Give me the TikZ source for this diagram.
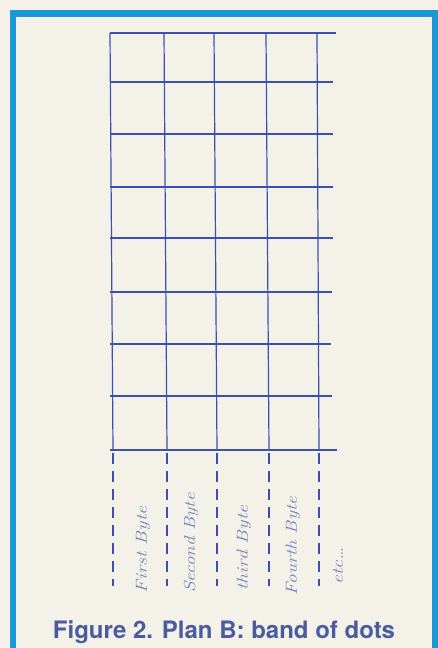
\documentclass[tikz,border=0pt]{standalone}
\usepackage{fontspec}
\newfontfamily\capfont{TeX Gyre Heros}
\usepackage{graphicx}
\definecolor{paper}{HTML}{F4F2E8}
\definecolor{frameblue}{HTML}{1C98D6}
\definecolor{gridblue}{HTML}{3A4FB0}
\definecolor{handblue}{HTML}{7282BA}
\definecolor{capblue}{HTML}{4A5C9E}
\tikzset{
  gridline/.style={draw=gridblue, line width=1.2pt},
  dashline/.style={draw=gridblue, line width=1.2pt, dash pattern=on 11pt off 7pt},
  hand/.style={text=handblue, rotate=90, inner sep=0pt, font=\fontsize{16}{16}\selectfont\itshape},
  caption/.style={text=capblue, inner sep=0pt, anchor=base, font=\capfont\bfseries\fontsize{24}{26}\selectfont}
}
\begin{document}
\begin{tikzpicture}[x=1pt, y=-1pt]
\useasboundingbox (0,0) rectangle (438,648);
\fill[paper] (0,0) rectangle (438,648);
% frame
\draw[frameblue, line width=6.5pt] (13,670) -- (13,13.5) -- (435.5,13.5) -- (435.5,670);
% grid coordinates
\foreach \i/\xt/\xb in {0/110/113, 1/164/167, 2/214/217, 3/266/269, 4/317/319} {
  \coordinate (t\i) at (\xt,33);
  \coordinate (b\i) at (\xb,450);
  \coordinate (d\i) at (\xb,586);
}
\foreach \i in {0,...,4} {
  \draw[gridline] (t\i) -- (b\i);
  \draw[dashline] ([yshift=-3pt]b\i) -- (d\i);
}
\foreach \j/\y/\xe in {0/33/336, 1/82/333, 2/134/333, 3/187/333, 4/238/333, 5/292/332, 6/344/331, 7/396/332, 8/450/337} {
  \coordinate (hl\j) at (110,\y);
  \coordinate (hr\j) at (\xe,\y);
  \draw[gridline] (hl\j) -- (hr\j);
}
% handwritten labels
\node[hand] (l1) at (143,550) {\scalebox{1.25}[1]{First Byte}};
\node[hand] (l2) at (191,543) {\scalebox{1.2}[1]{Second Byte}};
\node[hand] (l3) at (244,548) {\scalebox{1.25}[1]{third Byte}};
\node[hand] (l4) at (293,546) {\scalebox{1.2}[1]{Fourth Byte}};
\node[hand] (l5) at (338,566) {\scalebox{1.25}[1]{etc\ldots}};
% caption
\node[caption] (cap) at (224,638) {Figure 2. Plan B: band of dots};
\end{tikzpicture}
\end{document}
